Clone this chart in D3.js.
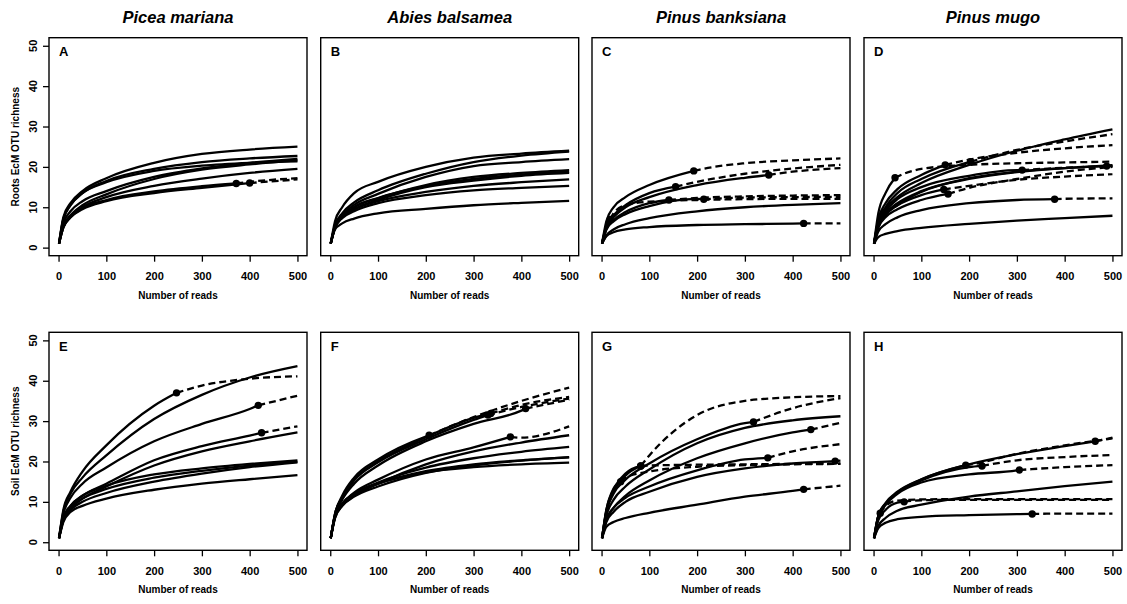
<!DOCTYPE html>
<html>
<head>
<meta charset="utf-8">
<script src="https://cdn.jsdelivr.net/npm/d3@7"></script>
<style>
  body { margin: 0; background: #fff; }
  svg { display: block; }
</style>
</head>
<body>
<svg id="chart" width="1127" height="604"></svg>
<script>
// Rarefaction / extrapolation curves of EcM OTU richness per host species.
// Each curve gives the richness at the read depths in READS; a sample entry
// [reads, richness] marks the observed sample (solid before it, dashed after).
// Curves without a sample entry were sequenced beyond 500 reads.

const READS = [1, 10, 25, 50, 100, 200, 300, 400, 500];
const xTicks = [0, 100, 200, 300, 400, 500];
const yTicks = [0, 10, 20, 30, 40, 50];
const species = ["Picea mariana", "Abies balsamea", "Pinus banksiana", "Pinus mugo"];
const panelLetters = ["A", "B", "C", "D", "E", "F", "G", "H"];
const rowLabels = ["Roots EcM OTU richness", "Soil EcM OTU richness"];
const xLabel = "Number of reads";

// Roots
const richnessA = [
  [1, 7.5, 11, 14, 17.2, 21, 23.2, 24.3, 25.0],
  [1, 7, 10.5, 13.5, 16.5, 19.5, 21.2, 22.1, 22.7],
  [1, 6, 9, 11.5, 14, 17.5, 19.6, 21, 22.0],
  [1, 7, 10.5, 13.5, 16.2, 19, 20.3, 21, 21.4],
  [1, 5.5, 8, 10.5, 13.2, 17, 19.3, 20.6, 21.6],
  [1, 5, 7.5, 10, 12.5, 15.3, 17.1, 18.5, 19.5],
  [1, 5, 7.5, 9.8, 11.8, 13.9, 15.2, 16.3, 17.2],
  [1, 5, 7.5, 9.5, 11.5, 13.5, 14.8, 16.0, 16.9]
];
const sampleA = [null, null, null, null, null, null, [372, 15.9], [400, 16.0]];

const richnessB = [
  [1, 6.5, 10, 13.5, 16.3, 20, 22.3, 23.3, 24.0],
  [1, 5.5, 8.5, 11.2, 14.2, 18.3, 21.2, 22.8, 23.8],
  [1, 5.5, 8, 10.6, 13.3, 17.5, 20.2, 21.2, 21.9],
  [1, 5, 7.5, 10, 12.2, 15.5, 17.5, 18.5, 19.2],
  [1, 5, 7.5, 10, 12.3, 15.2, 17, 18.1, 18.8],
  [1, 5, 7.5, 9.5, 11.8, 15, 16.6, 17.8, 18.5],
  [1, 5, 7.5, 9.5, 11.5, 13.8, 15.3, 16.2, 16.9],
  [1, 5, 7.3, 9, 11, 13, 14.2, 14.8, 15.3],
  [1, 4.5, 6, 7.2, 8.5, 9.6, 10.5, 11.1, 11.6]
];
const sampleB = [null, null, null, null, null, null, null, null, null];

const richnessC = [
  [1, 6.5, 10, 12.5, 15.5, 19.2, 20.9, 21.6, 22.1],
  [1, 5.5, 8, 10.5, 13.5, 16.3, 18.3, 19.6, 20.5],
  [1, 5, 7.5, 10, 12.5, 15.5, 17.3, 18.8, 19.7],
  [1, 5, 8.5, 10.5, 11.4, 11.8, 12, 12.1, 12.1],
  [1, 4.5, 6.8, 8.8, 11, 12.3, 12.7, 12.9, 13.0],
  [1, 4.5, 6.5, 8.3, 10.3, 12.1, 12.4, 12.5, 12.6],
  [1, 3, 4.5, 5.8, 7.3, 9, 10, 10.6, 11.0],
  [1, 2.8, 3.8, 4.5, 5.1, 5.6, 5.8, 5.95, 6.0]
];
const sampleC = [[193, 19.0], [155, 15.1], [350, 18.0], [18, 7.0], [141, 11.8], [214, 12.0], null, [423, 6.0]];

const richnessD = [
  [1, 6, 9.5, 12.5, 16, 20.5, 24, 26.8, 29.3],
  [1, 8.5, 13.5, 17.6, 19.5, 20.5, 20.9, 21.1, 21.3],
  [1, 7, 11, 14.5, 18, 21.8, 23.5, 24.6, 25.4],
  [1, 6.5, 10, 13.5, 17, 21.2, 24.2, 26.3, 28.1],
  [1, 6, 9, 12, 15, 17.8, 19.2, 19.8, 20.2],
  [1, 5.5, 8.5, 11, 14, 17, 18.7, 19.7, 20.3],
  [1, 5.5, 8.5, 10.5, 13, 15.3, 16.8, 17.6, 18.2],
  [1, 5, 7.5, 9.5, 11.8, 14.8, 17, 18.8, 20.0],
  [1, 4, 5.8, 7.5, 9.3, 11, 11.8, 12.1, 12.2],
  [1, 2.6, 3.4, 4.1, 4.9, 5.9, 6.7, 7.3, 7.9],
  [1, 5, 8, 10.5, 13.8, 17.2, 18.8, 19.7, 20.4]
];
const sampleD = [null, [45, 17.3], [150, 20.5], [203, 21.3], [311, 19.2], [488, 20.2], [147, 14.4], [156, 13.3], [379, 12.0], null, null];

// Soil
const richnessE = [
  [1, 8, 12.5, 17.5, 24, 33.8, 38.8, 40.5, 41.1],
  [1, 7.5, 12, 16, 21.5, 30.5, 36.5, 40.8, 43.6],
  [1, 7, 11, 14.5, 18.5, 25, 29.3, 33, 36.3],
  [1, 6, 9, 11.5, 14.5, 20.3, 23.8, 26.4, 28.7],
  [1, 5.5, 8.3, 10.8, 13.8, 19, 22.5, 25, 27.2],
  [1, 6, 9, 11.5, 14, 16.8, 18.3, 19.4, 20.3],
  [1, 5.5, 8.5, 10.8, 13.2, 16, 17.7, 19, 19.9],
  [1, 5.5, 8, 10, 12.2, 15, 17, 18.6, 19.8],
  [1, 5, 7.5, 9, 10.8, 13, 14.5, 15.6, 16.6]
];
const sampleE = [[247, 37.0], null, [418, 33.9], [425, 27.1], null, null, null, null, null];

const richnessF = [
  [1, 7, 11.5, 16, 20.5, 26.2, 31, 35, 38.3],
  [1, 7, 11, 15.5, 20, 26, 30.8, 34, 36.0],
  [1, 7, 11, 15.3, 19.8, 25.5, 30.3, 33.5, 35.6],
  [1, 6.5, 10.5, 14.5, 19, 25, 29.3, 32.6, 35.3],
  [1, 6.5, 9.5, 12.3, 15.5, 20.5, 23.5, 25.9, 28.7],
  [1, 6, 9, 11.5, 14.5, 19.3, 22.5, 24.7, 26.5],
  [1, 6.5, 9.5, 12, 14.8, 18.5, 20.8, 22.4, 23.6],
  [1, 6, 9, 11.3, 13.8, 17.2, 19, 20.2, 21.1],
  [1, 6.5, 9.5, 12, 14.5, 17.6, 19.3, 20.3, 21.0],
  [1, 6.5, 9.5, 12, 14.5, 17.3, 18.6, 19.3, 19.7]
];
const sampleF = [[207, 26.5], [336, 31.9], [330, 31.5], [409, 33.1], [377, 26.1], null, null, null, null, null];

const richnessG = [
  [1, 8, 13, 17, 21.5, 31.5, 35, 35.9, 36.2],
  [1, 8, 13.3, 16, 17.5, 18.7, 19.1, 19.3, 19.4],
  [1, 7.5, 12.5, 16.5, 19, 19.2, 19.3, 19.4, 19.5],
  [1, 7.5, 12, 15.5, 19.5, 25.5, 29.5, 33.2, 35.7],
  [1, 6.5, 10.5, 13.8, 18, 24.5, 28.3, 30.2, 31.2],
  [1, 5.5, 8.5, 11.5, 15.3, 20.8, 24.5, 27.2, 29.6],
  [1, 5.5, 8.5, 11, 13.8, 17.8, 20.5, 22.5, 24.3],
  [1, 5, 7.5, 10, 12.5, 16.2, 18.3, 19.5, 20.2],
  [1, 3.8, 5, 6, 7.3, 9.3, 11.3, 12.7, 14.0]
];
const sampleG = [[82, 18.9], [40, 15.0], [82, 18.9], [318, 29.8], null, [438, 27.9], [348, 20.9], [489, 20.1], [423, 13.1]];

const richnessH = [
  [1, 6.5, 9.5, 12.3, 15.5, 19.3, 21.8, 23.8, 25.9],
  [1, 6.5, 9.7, 12.5, 15.6, 19.2, 21.9, 24, 25.7],
  [1, 6.5, 9.5, 12.3, 15.3, 18.6, 20.3, 21.1, 21.6],
  [1, 6, 9.2, 12, 14.8, 16.8, 17.8, 18.6, 19.1],
  [1, 4, 6, 7.8, 9.3, 11.3, 12.6, 13.9, 15.0],
  [1, 6.5, 9, 10.3, 10.6, 10.7, 10.7, 10.7, 10.7],
  [1, 5.5, 8, 9.8, 10.4, 10.5, 10.5, 10.5, 10.5],
  [1, 3.5, 4.8, 5.7, 6.3, 6.7, 6.95, 7.1, 7.1]
];
const sampleH = [[464, 25.0], [193, 19.1], [227, 18.9], [305, 17.9], null, [14, 7.2], [64, 10.0], [332, 7.0]];

const panelRichness = [richnessA, richnessB, richnessC, richnessD, richnessE, richnessF, richnessG, richnessH];
const panelSamples = [sampleA, sampleB, sampleC, sampleD, sampleE, sampleF, sampleG, sampleH];

// ---- layout ----
const FONT = "'Liberation Sans', Arial, Helvetica, sans-serif";
const boxLefts = [49, 320.7, 592, 864];
const boxTops = [37.7, 332.3];
const boxW = 258, boxH = 218;

const svg = d3.select("#chart").style("font-family", FONT);

// species titles
species.forEach((name, c) => {
  svg.append("text")
    .attr("x", boxLefts[c] + boxW / 2)
    .attr("y", 22.5)
    .attr("text-anchor", "middle")
    .style("font-size", "16.5px")
    .style("font-weight", "bold")
    .style("font-style", "italic")
    .text(name);
});

// row (y-axis) labels
rowLabels.forEach((lab, r) => {
  svg.append("text")
    .attr("transform", `translate(19,${boxTops[r] + boxH / 2}) rotate(-90)`)
    .attr("text-anchor", "middle")
    .style("font-size", "10px")
    .style("font-weight", "bold")
    .text(lab);
});

const line = (x, y) => d3.line().x(d => x(d[0])).y(d => y(d[1])).curve(d3.curveMonotoneX);

panelRichness.forEach((curves, p) => {
  const r = Math.floor(p / 4), c = p % 4;
  const left = boxLefts[c], top = boxTops[r];
  const x = d3.scaleLinear().domain([-20, 520]).range([left, left + boxW]);
  const y = d3.scaleLinear().domain([-2, 52]).range([top + boxH, top]);
  const g = svg.append("g");
  const path = line(x, y);

  curves.forEach((vals, i) => {
    const pts = READS.map((n, k) => [n, vals[k]]);
    const obs = panelSamples[p][i];
    let solid = pts, dashed = null;
    if (obs) {
      solid = pts.filter(d => d[0] < obs[0]).concat([obs]);
      dashed = [obs].concat(pts.filter(d => d[0] > obs[0]));
    }
    g.append("path").attr("d", path(solid))
      .attr("fill", "none").attr("stroke", "#000").attr("stroke-width", 2.3)
      .attr("stroke-linejoin", "round");
    if (dashed && dashed.length > 1) {
      g.append("path").attr("d", path(dashed))
        .attr("fill", "none").attr("stroke", "#000").attr("stroke-width", 2.3)
        .attr("stroke-dasharray", "7,4");
    }
  });
  // observed samples
  panelSamples[p].forEach(obs => {
    if (!obs) return;
    g.append("circle").attr("cx", x(obs[0])).attr("cy", y(obs[1])).attr("r", 3.7).attr("fill", "#000");
  });

  // frame
  svg.append("rect").attr("x", left).attr("y", top).attr("width", boxW).attr("height", boxH)
    .attr("fill", "none").attr("stroke", "#000").attr("stroke-width", 1.4);

  // x axis
  const xa = svg.append("g").attr("transform", `translate(0,${top + boxH})`)
    .call(d3.axisBottom(x).tickValues(xTicks).tickSize(6).tickPadding(11).tickFormat(d3.format("d")));
  xa.select(".domain").remove();
  xa.selectAll("line").attr("stroke-width", 1.3);
  xa.selectAll("text").style("font-size", "11px").style("font-weight", "bold").style("font-family", FONT);

  svg.append("text")
    .attr("x", left + boxW / 2).attr("y", top + boxH + 43)
    .attr("text-anchor", "middle")
    .style("font-size", "10px").style("font-weight", "bold")
    .text(xLabel);

  // y axis only on the first column
  if (c === 0) {
    const ya = svg.append("g").attr("transform", `translate(${left},0)`)
      .call(d3.axisLeft(y).tickValues(yTicks).tickSize(6).tickFormat(""));
    ya.select(".domain").remove();
    ya.selectAll("line").attr("stroke-width", 1.3);
    yTicks.forEach(v => {
      svg.append("text")
        .attr("transform", `translate(${left - 12.5},${y(v)}) rotate(-90)`)
        .attr("text-anchor", "middle")
        .style("font-size", "11px").style("font-weight", "bold")
        .text(v);
    });
  }

  // panel letter
  svg.append("text")
    .attr("x", left + 10).attr("y", top + 18.3)
    .style("font-size", "13px").style("font-weight", "bold")
    .text(panelLetters[p]);
});
</script>
</body>
</html>
